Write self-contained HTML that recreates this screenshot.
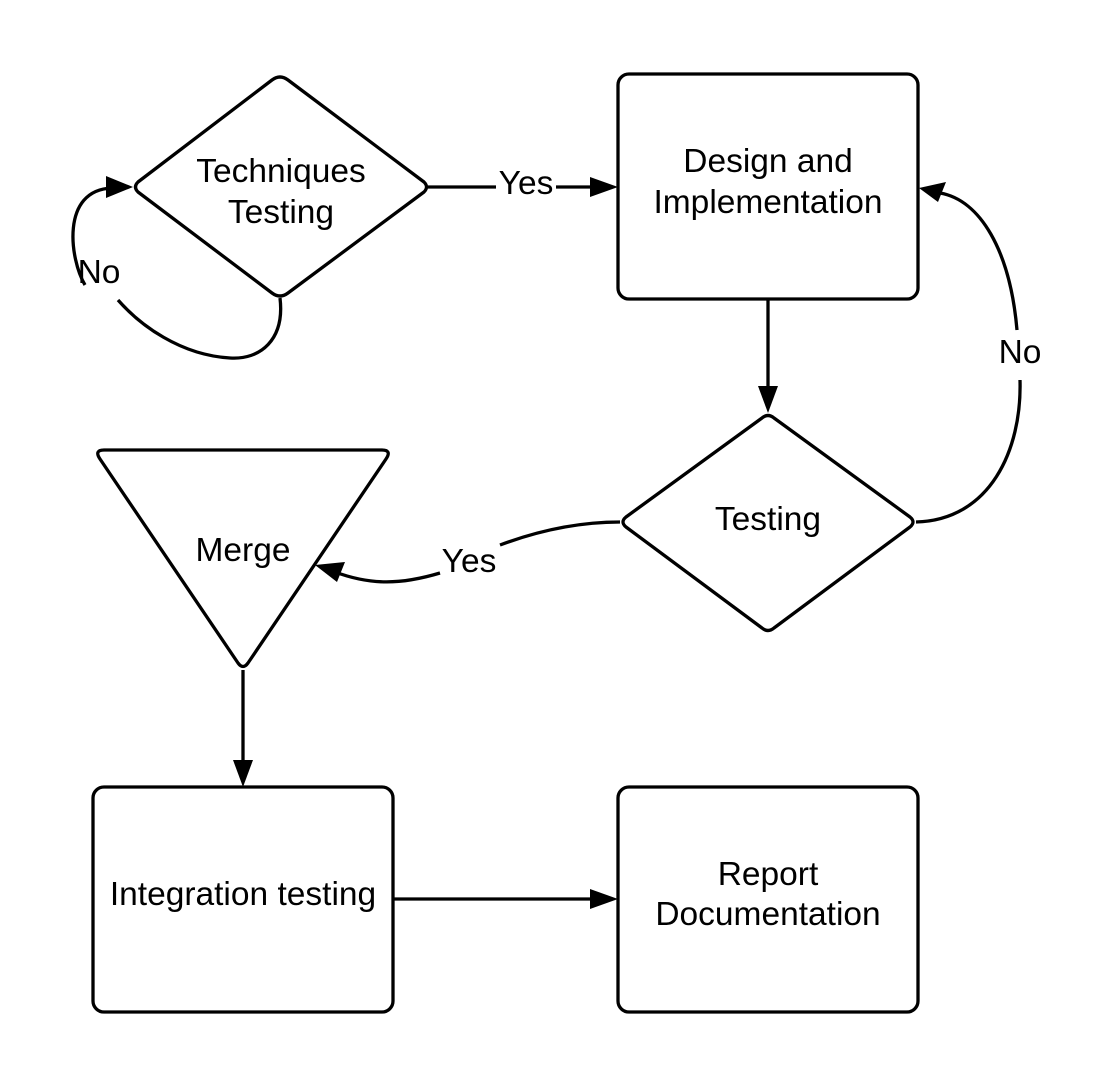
<!DOCTYPE html>
<html><head><meta charset="utf-8"><style>
html,body{margin:0;padding:0;background:#fff;}
svg{display:block;}
text{font-family:"Liberation Sans",sans-serif;font-size:33.5px;fill:#000;}
</style></head><body>
<svg width="1118" height="1088" viewBox="0 0 1118 1088" xmlns="http://www.w3.org/2000/svg">
<g fill="none" stroke="#000" stroke-width="3.3" stroke-linejoin="round">
<path d="M272 80 Q280 74 288 80 L424 182 Q429 187 424 192 L288 293 Q280 299 272 293 L138 192 Q133 187 138 182 Z"/>
<rect x="618" y="74" width="300" height="225" rx="11"/>
<path d="M762 418 Q768 413 774 418 L910 517 Q916 522 910 527 L774 628 Q768 633 762 628 L626 527 Q620 522 626 517Z"/>
<path d="M104 450 L382 450 Q392 450 386 459 L248 663 Q243 670 238 663 L100 459 Q94 450 104 450Z"/>
<rect x="93" y="787" width="300" height="225" rx="11"/>
<rect x="618" y="787" width="300" height="225" rx="11"/>
<path d="M428 187 L496 187 M556 187 L595 187"/>
<path d="M768 299 L768 392"/>
<path d="M280 298 C285 340 260 360 230 358 C180 355 140 325 118 300"/>
<path d="M85 285 C70 260 60 190 112 188"/>
<path d="M916 522 C990 520 1022 450 1020 380 M1017 330 C1010 250 980 200 940 193"/>
<path d="M620 522 C580 522 540 530 500 545 M440 573 C400 585 370 585 335 572"/>
<path d="M243 670 L243 766"/>
<path d="M393 899 L597 899"/>
</g>
<g fill="#000">
<polygon points="618,187 590,177 590,197"/>
<polygon points="768,413 758,386 778,386"/>
<polygon points="133,187 106,176 106,198"/>
<polygon points="919,188 946,182 938,202"/>
<polygon points="315,565 345,562 337,582"/>
<polygon points="243,787 233,760 253,760"/>
<polygon points="618,899 590,889 590,909"/>
</g>
<text x="281" y="182" text-anchor="middle">Techniques</text>
<text x="281" y="223" text-anchor="middle">Testing</text>
<text x="526" y="194" text-anchor="middle">Yes</text>
<text x="768" y="172" text-anchor="middle">Design and</text>
<text x="768" y="213" text-anchor="middle">Implementation</text>
<text x="99" y="283" text-anchor="middle">No</text>
<text x="1020" y="363" text-anchor="middle">No</text>
<text x="768" y="530" text-anchor="middle">Testing</text>
<text x="243" y="561" text-anchor="middle">Merge</text>
<text x="469" y="572" text-anchor="middle">Yes</text>
<text x="243" y="905" text-anchor="middle">Integration testing</text>
<text x="768" y="885" text-anchor="middle">Report</text>
<text x="768" y="925" text-anchor="middle">Documentation</text>
</svg>
</body></html>
